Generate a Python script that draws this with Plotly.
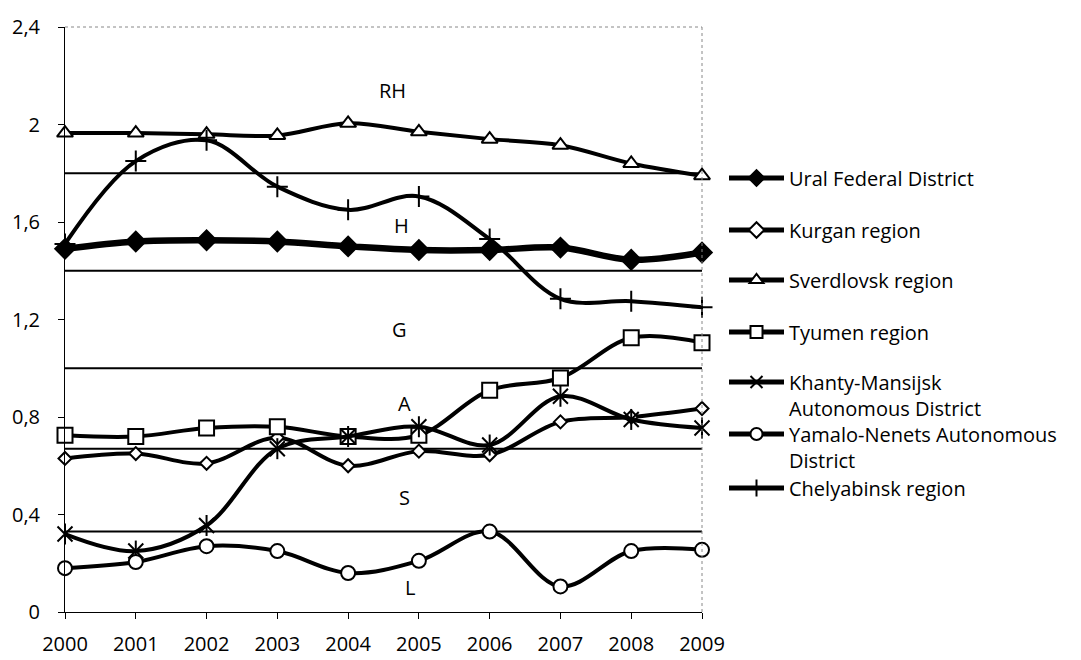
import plotly.graph_objects as go

# ---- data ----
years = [2000, 2001, 2002, 2003, 2004, 2005, 2006, 2007, 2008, 2009]
ural = [1.49, 1.52, 1.525, 1.52, 1.50, 1.485, 1.485, 1.495, 1.445, 1.475]
kurgan = [0.63, 0.65, 0.61, 0.715, 0.60, 0.66, 0.645, 0.78, 0.80, 0.835]
sverdlovsk = [1.965, 1.965, 1.96, 1.955, 2.005, 1.97, 1.94, 1.915, 1.84, 1.79]
tyumen = [0.725, 0.72, 0.755, 0.76, 0.72, 0.725, 0.91, 0.96, 1.125, 1.105]
khanty = [0.32, 0.25, 0.355, 0.67, 0.72, 0.76, 0.685, 0.885, 0.79, 0.755]
yamalo = [0.18, 0.205, 0.27, 0.25, 0.16, 0.21, 0.33, 0.105, 0.25, 0.255]
chelyabinsk = [1.51, 1.85, 1.935, 1.745, 1.65, 1.705, 1.53, 1.285, 1.275, 1.25]

thresholds = [1.8, 1.4, 1.0, 0.67, 0.33]
zone_labels = ["RH", "H", "G", "A", "S", "L"]
zone_label_x = [2004.63, 2004.75, 2004.73, 2004.8, 2004.8, 2004.87]
zone_label_y = [2.14, 1.585, 1.16, 0.855, 0.47, 0.10]

y_tickvals = [0, 0.4, 0.8, 1.2, 1.6, 2.0, 2.4]
y_ticktext = ["0", "0,4", "0,8", "1,2", "1,6", "2", "2,4"]

series_names = [
    "Ural Federal District",
    "Kurgan region",
    "Sverdlovsk region",
    "Tyumen region",
    "Khanty-Mansijsk<br>Autonomous District",
    "Yamalo-Nenets Autonomous<br>District",
    "Chelyabinsk region",
]
series_values = [ural, kurgan, sverdlovsk, tyumen, khanty, yamalo, chelyabinsk]

# ---- styles ----
FONT = "Open Sans"
FS = 20
styles = [
    dict(symbol="diamond", size=15, color="black", lw=6.5),
    dict(symbol="diamond", size=10, color="white", lw=4),
    dict(symbol="triangle-up", size=14, color="white", lw=4),
    dict(symbol="square", size=15, color="white", lw=4),
    dict(symbol="x-thin-open", size=15, color="black", lw=4),
    dict(symbol="circle", size=14, color="white", lw=4),
    dict(symbol="cross-thin-open", size=15, color="black", lw=4),
]
# page body has an 8px margin: reference pixel = figure pixel + 8
OFF = 8
legend_center_px = [178, 230, 280, 332, 382, 434, 488]

W, H = 1081 - OFF, 660 - OFF
L, T = 65 - OFF, 27 - OFF
plot_w, plot_h = 637, 585
R = W - L - plot_w
B = H - T - plot_h

fig = go.Figure()

# threshold lines
for v in thresholds:
    fig.add_trace(go.Scatter(
        x=[years[0], years[-1]], y=[v, v], mode="lines",
        line=dict(color="black", width=2), showlegend=False, hoverinfo="skip"))

# series
for i, (name, vals, st) in enumerate(zip(series_names, series_values, styles)):
    leg = "legend" if i == 0 else f"legend{i+1}"
    fig.add_trace(go.Scatter(
        x=years, y=vals, name=name, mode="lines+markers",
        line=dict(color="black", width=st["lw"], shape="spline", smoothing=1.0),
        marker=dict(symbol=st["symbol"], size=st["size"], color=st["color"],
                    line=dict(color="black", width=2)),
        cliponaxis=False, legend=leg))
    if st["symbol"] == "x-thin-open":
        # vertical bar completing the asterisk-like marker
        fig.add_trace(go.Scatter(
            x=years, y=vals, mode="markers", showlegend=False, hoverinfo="skip",
            marker=dict(symbol="line-ns-open", size=15, color="black",
                        line=dict(color="black", width=2)),
            cliponaxis=False))

# zone labels
for txt, xx, yy in zip(zone_labels, zone_label_x, zone_label_y):
    fig.add_annotation(x=xx, y=yy, text=txt, showarrow=False,
                       font=dict(family=FONT, size=FS, color="black"))

# frame (dotted top and right)
fig.add_shape(type="line", xref="paper", yref="paper", x0=0, x1=1, y0=1, y1=1,
              line=dict(color="#888", width=1, dash="dot"))
fig.add_shape(type="line", xref="paper", yref="paper", x0=1, x1=1, y0=0, y1=1,
              line=dict(color="#888", width=1, dash="dot"))

layout_legends = {}
for i, cpx in enumerate(legend_center_px):
    key = "legend" if i == 0 else f"legend{i+1}"
    top_px = cpx - OFF - 19.5
    layout_legends[key] = dict(
        x=(724 - OFF - L) / plot_w, xanchor="left",
        y=(H - B - top_px) / plot_h, yanchor="top",
        font=dict(family=FONT, size=FS, color="black"),
        bgcolor="rgba(0,0,0,0)", valign="top", itemsizing="constant",
        itemwidth=55)

fig.update_layout(
    width=W, height=H,
    margin=dict(l=L, r=R, t=T, b=B, pad=0),
    paper_bgcolor="white", plot_bgcolor="white",
    font=dict(family=FONT, size=FS, color="black"),
    xaxis=dict(range=[years[0], years[-1]], tickvals=years, showline=True,
               linecolor="black", linewidth=1, ticks="outside", ticklen=6,
               tickcolor="black", showgrid=False, zeroline=False, automargin=False,
               ticklabelstandoff=8, tickfont=dict(family=FONT, size=FS)),
    yaxis=dict(range=[0, 2.4], tickvals=y_tickvals, ticktext=y_ticktext,
               showline=True, linecolor="black", linewidth=1, ticks="outside",
               ticklen=6, tickcolor="black", showgrid=False, zeroline=False,
               automargin=False,
               ticklabelstandoff=14, tickfont=dict(family=FONT, size=FS)),
    showlegend=True,
    **layout_legends,
)

fig.write_html("out.html")
